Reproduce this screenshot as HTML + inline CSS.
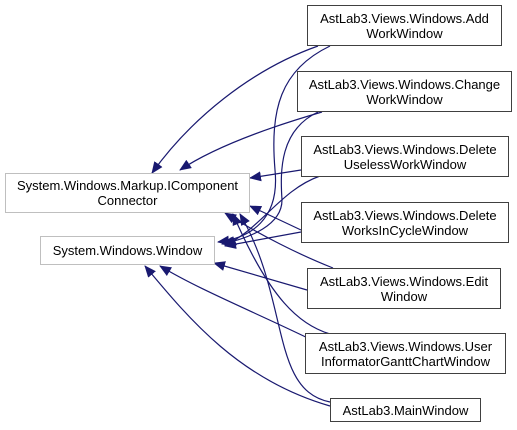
<!DOCTYPE html>
<html><head><style>
body{margin:0;background:#fff;}
.b{position:absolute;background:#fff;border:1px solid #404040;box-sizing:border-box;font:13px "Liberation Sans",sans-serif;text-align:center;line-height:15px;color:#000;display:flex;align-items:center;justify-content:center;white-space:nowrap;}
.g{border-color:#bfbfbf;}
</style></head><body>
<svg width="517" height="430" style="position:absolute;left:0;top:0">
<defs><marker id="a" markerWidth="12" markerHeight="10" refX="11" refY="5" orient="auto" markerUnits="userSpaceOnUse"><path d="M0,0 L12,5 L0,10 z" fill="#191970"/></marker></defs>
<g fill="none" stroke="#191970" stroke-width="1.2" marker-end="url(#a)">
<path d="M318,46 C250,70 190,120 152,173"/>
<path d="M330,46 C280,70 270,110 275,170 C280,220 250,238 218,242"/>
<path d="M322,112 C260,130 210,150 180,170"/>
<path d="M318,112 C280,130 280,170 282,200 C282,225 250,238 222,244"/>
<path d="M301,170 L250,178"/>
<path d="M320,176 C280,190 260,230 225,245"/>
<path d="M301,230 L250,206"/>
<path d="M301,232 L225,246"/>
<path d="M333,268 C300,255 260,235 225,213"/>
<path d="M307,290 L214,263"/>
<path d="M330,334 C300,325 270,300 233,214"/>
<path d="M312,340 C250,310 200,290 160,266"/>
<path d="M330,402 C270,390 290,300 240,214"/>
<path d="M330,406 C240,380 190,320 145,266"/>
</g></svg>
<div class="b g" style="left:5px;top:173px;width:245px;height:40px">System.Windows.Markup.IComponent<br>Connector</div>
<div class="b g" style="left:40px;top:236px;width:175px;height:29px">System.Windows.Window</div>
<div class="b" style="left:307px;top:5px;width:195px;height:41px">AstLab3.Views.Windows.Add<br>WorkWindow</div>
<div class="b" style="left:297px;top:71px;width:215px;height:41px">AstLab3.Views.Windows.Change<br>WorkWindow</div>
<div class="b" style="left:301px;top:136px;width:208px;height:41px">AstLab3.Views.Windows.Delete<br>UselessWorkWindow</div>
<div class="b" style="left:301px;top:202px;width:208px;height:41px">AstLab3.Views.Windows.Delete<br>WorksInCycleWindow</div>
<div class="b" style="left:307px;top:268px;width:194px;height:41px">AstLab3.Views.Windows.Edit<br>Window</div>
<div class="b" style="left:305px;top:333px;width:201px;height:41px">AstLab3.Views.Windows.User<br>InformatorGanttChartWindow</div>
<div class="b" style="left:330px;top:398px;width:151px;height:24px">AstLab3.MainWindow</div>
</body></html>
